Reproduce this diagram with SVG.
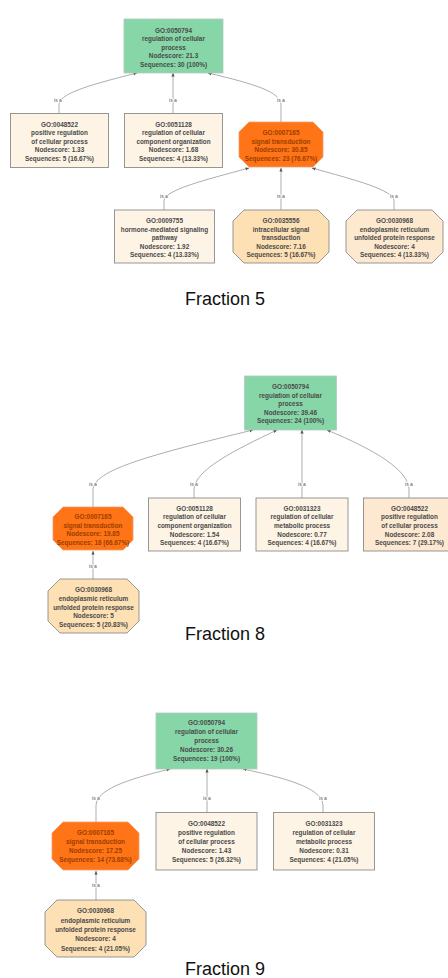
<svg xmlns="http://www.w3.org/2000/svg" width="448" height="978" viewBox="0 0 448 978">
<defs>
<marker id="arr" markerWidth="4" markerHeight="4" refX="3.6" refY="2" orient="auto" markerUnits="userSpaceOnUse">
<path d="M0,0.4 L3.8,2 L0,3.6 Z" fill="#555"/>
</marker>
</defs>
<style>
.e{fill:none;stroke:#8a8a8a;stroke-width:0.7;marker-end:url(#arr)}
.lbl{font-family:"Liberation Sans",Arial,sans-serif;font-size:5px;fill:#555;text-anchor:middle;stroke:#fff;stroke-width:1.6;paint-order:stroke}
.t{font-family:"Liberation Sans",Arial,sans-serif;font-size:6.4px;font-weight:bold;fill:#4a4a4a;text-anchor:middle}
.to{font-family:"Liberation Sans",Arial,sans-serif;font-size:6.4px;font-weight:bold;fill:#9c3d00;text-anchor:middle}
.root{fill:#86d6a8;stroke:#b5c9bc;stroke-width:0.8}
.rect{fill:#fdf4e6;stroke:#8c8c8c;stroke-width:0.9}
.peach{fill:#fde8d2;stroke:#8c8c8c;stroke-width:0.9}
.org{fill:#ff7416;stroke:#f0a070;stroke-width:0.8}
.lo{fill:#fde0b4;stroke:#8c8c8c;stroke-width:0.9}
.lo2{fill:#fde9d0;stroke:#8c8c8c;stroke-width:0.9}
.title{font-family:"Liberation Sans",Arial,sans-serif;font-size:18px;fill:#111;text-anchor:middle}
</style>
<rect width="448" height="978" fill="#fff"/>

<g id="connectors">
<!-- Fraction 5 -->
<path class="e" d="M59,113 L59,105 C59,94 85,86 137,73"/>
<path class="e" d="M173,113 L173,73"/>
<path class="e" d="M281,122 L281,105 C281,92 255,84 208,73"/>
<path class="e" d="M164,210 L164,201 C164,190 205,180 249,168"/>
<path class="e" d="M281,210 L281,168"/>
<path class="e" d="M394,210 L394,201 C394,190 355,180 312,168"/>
<!-- Fraction 8 -->
<path class="e" d="M93,507 L93,490 C93,470 150,455 253,430"/>
<path class="e" d="M194,498 L194,490 C194,470 235,450 277,430"/>
<path class="e" d="M302,498 L302,430"/>
<path class="e" d="M409,498 L409,490 C409,470 375,450 327,430"/>
<path class="e" d="M93,579 L93,551"/>
<!-- Fraction 9 -->
<path class="e" d="M96,822 L96,806 C96,790 125,780 170,769"/>
<path class="e" d="M207,812 L207,769"/>
<path class="e" d="M323,812 L323,806 C323,790 295,780 243,769"/>
<path class="e" d="M96,900 L96,871"/>
<!-- labels -->
<text class="lbl" x="58" y="101.8">is a</text>
<text class="lbl" x="173" y="101.8">is a</text>
<text class="lbl" x="281" y="101.8">is a</text>
<text class="lbl" x="164" y="197.8">is a</text>
<text class="lbl" x="281" y="197.8">is a</text>
<text class="lbl" x="394" y="197.8">is a</text>
<text class="lbl" x="93" y="485.8">is a</text>
<text class="lbl" x="194" y="485.8">is a</text>
<text class="lbl" x="302" y="485.8">is a</text>
<text class="lbl" x="409" y="485.8">is a</text>
<text class="lbl" x="93" y="567.8">is a</text>
<text class="lbl" x="96" y="799.8">is a</text>
<text class="lbl" x="207" y="799.8">is a</text>
<text class="lbl" x="323" y="799.8">is a</text>
<text class="lbl" x="96" y="887.3">is a</text>
</g>

<!-- Fraction 5 -->
<g id="f5_0050794">
<rect class="root" x="124" y="19" width="99" height="54"/>
<text class="t" x="173.5" y="32.5">GO:0050794</text>
<text class="t" x="173.5" y="41">regulation of cellular</text>
<text class="t" x="173.5" y="49.5">process</text>
<text class="t" x="173.5" y="58">Nodescore: 21.3</text>
<text class="t" x="173.5" y="66.5">Sequences: 30 (100%)</text>
</g>
<g id="f5_0048522">
<rect class="rect" x="10.5" y="113.5" width="98" height="54"/>
<text class="t" x="59.5" y="126.5">GO:0048522</text>
<text class="t" x="59.5" y="135.1">positive regulation</text>
<text class="t" x="59.5" y="143.7">of cellular process</text>
<text class="t" x="59.5" y="152.3">Nodescore: 1.33</text>
<text class="t" x="59.5" y="160.9">Sequences: 5 (16.67%)</text>
</g>
<g id="f5_0051128">
<rect class="rect" x="124.5" y="113.5" width="98" height="54"/>
<text class="t" x="173.5" y="126.5">GO:0051128</text>
<text class="t" x="173.5" y="135.1">regulation of cellular</text>
<text class="t" x="173.5" y="143.7">component organization</text>
<text class="t" x="173.5" y="152.3">Nodescore: 1.68</text>
<text class="t" x="173.5" y="160.9">Sequences: 4 (13.33%)</text>
</g>
<g id="f5_0007165">
<polygon class="org" points="249,122 313,122 323,132 323,157 313,167 249,167 239,157 239,132"/>
<text class="to" x="281" y="135">GO:0007165</text>
<text class="to" x="281" y="143.6">signal transduction</text>
<text class="to" x="281" y="152.2">Nodescore: 30.85</text>
<text class="to" x="281" y="160.8">Sequences: 23 (76.67%)</text>
</g>
<g id="f5_0009755">
<rect class="rect" x="114.5" y="210" width="100" height="53"/>
<text class="t" x="164.5" y="223">GO:0009755</text>
<text class="t" x="164.5" y="231.6">hormone-mediated signaling</text>
<text class="t" x="164.5" y="240.2">pathway</text>
<text class="t" x="164.5" y="248.8">Nodescore: 1.92</text>
<text class="t" x="164.5" y="257.4">Sequences: 4 (13.33%)</text>
</g>
<g id="f5_0035556">
<polygon class="lo" points="244,210 318,210 329,221 329,252 318,263 244,263 233,252 233,221"/>
<text class="t" x="281" y="223">GO:0035556</text>
<text class="t" x="281" y="231.6">intracellular signal</text>
<text class="t" x="281" y="240.2">transduction</text>
<text class="t" x="281" y="248.8">Nodescore: 7.16</text>
<text class="t" x="281" y="257.4">Sequences: 5 (16.67%)</text>
</g>
<g id="f5_0030968">
<polygon class="lo2" points="357,210 432,210 443,221 443,252 432,263 357,263 346,252 346,221"/>
<text class="t" x="394.5" y="223">GO:0030968</text>
<text class="t" x="394.5" y="231.6">endoplasmic reticulum</text>
<text class="t" x="394.5" y="240.2">unfolded protein response</text>
<text class="t" x="394.5" y="248.8">Nodescore: 4</text>
<text class="t" x="394.5" y="257.4">Sequences: 4 (13.33%)</text>
</g>
<text class="title" x="225" y="305">Fraction 5</text>

<!-- Fraction 8 -->
<g id="f8_0050794">
<rect class="root" x="244.5" y="376" width="92" height="54"/>
<text class="t" x="290.5" y="389">GO:0050794</text>
<text class="t" x="290.5" y="397.5">regulation of cellular</text>
<text class="t" x="290.5" y="406">process</text>
<text class="t" x="290.5" y="414.5">Nodescore: 39.46</text>
<text class="t" x="290.5" y="423">Sequences: 24 (100%)</text>
</g>
<g id="f8_0007165">
<polygon class="org" points="63,507 123,507 133,517 133,540 123,550 63,550 53,540 53,517"/>
<text class="to" x="93" y="519">GO:0007165</text>
<text class="to" x="93" y="527.7">signal transduction</text>
<text class="to" x="93" y="536.3">Nodescore: 19.85</text>
<text class="to" x="93" y="545">Sequences: 16 (66.67%)</text>
</g>
<g id="f8_0051128">
<rect class="rect" x="148.5" y="498" width="92" height="53"/>
<text class="t" x="194.5" y="510.5">GO:0051128</text>
<text class="t" x="194.5" y="519.2">regulation of cellular</text>
<text class="t" x="194.5" y="527.9">component organization</text>
<text class="t" x="194.5" y="536.6">Nodescore: 1.54</text>
<text class="t" x="194.5" y="545.3">Sequences: 4 (16.67%)</text>
</g>
<g id="f8_0031323">
<rect class="rect" x="256" y="498" width="92" height="53"/>
<text class="t" x="302" y="510.5">GO:0031323</text>
<text class="t" x="302" y="519.2">regulation of cellular</text>
<text class="t" x="302" y="527.9">metabolic process</text>
<text class="t" x="302" y="536.6">Nodescore: 0.77</text>
<text class="t" x="302" y="545.3">Sequences: 4 (16.67%)</text>
</g>
<g id="f8_0048522">
<rect class="peach" x="363.5" y="498" width="92" height="53"/>
<text class="t" x="409.5" y="510.5">GO:0048522</text>
<text class="t" x="409.5" y="519.2">positive regulation</text>
<text class="t" x="409.5" y="527.9">of cellular process</text>
<text class="t" x="409.5" y="536.6">Nodescore: 2.08</text>
<text class="t" x="409.5" y="545.3">Sequences: 7 (29.17%)</text>
</g>
<g id="f8_0030968">
<polygon class="lo" points="60,579 127,579 139,591 139,621 127,633 60,633 48,621 48,591"/>
<text class="t" x="93.5" y="592.3">GO:0030968</text>
<text class="t" x="93.5" y="601">endoplasmic reticulum</text>
<text class="t" x="93.5" y="609.6">unfolded protein response</text>
<text class="t" x="93.5" y="618.3">Nodescore: 5</text>
<text class="t" x="93.5" y="627">Sequences: 5 (20.83%)</text>
</g>
<text class="title" x="225" y="640">Fraction 8</text>

<!-- Fraction 9 -->
<g id="f9_0050794">
<rect class="root" x="156" y="713" width="101" height="56"/>
<text class="t" x="206.5" y="724.6">GO:0050794</text>
<text class="t" x="206.5" y="733.9">regulation of cellular</text>
<text class="t" x="206.5" y="743.2">process</text>
<text class="t" x="206.5" y="752.3">Nodescore: 30.26</text>
<text class="t" x="206.5" y="761.4">Sequences: 19 (100%)</text>
</g>
<g id="f9_0007165">
<polygon class="org" points="63,822 128,822 139,833 139,859 128,870 63,870 52,859 52,833"/>
<text class="to" x="95.5" y="834.8">GO:0007165</text>
<text class="to" x="95.5" y="844">signal transduction</text>
<text class="to" x="95.5" y="853.2">Nodescore: 17.25</text>
<text class="to" x="95.5" y="862.4">Sequences: 14 (73.68%)</text>
</g>
<g id="f9_0048522">
<rect class="rect" x="156" y="812.5" width="101" height="57.5"/>
<text class="t" x="206.5" y="825.6">GO:0048522</text>
<text class="t" x="206.5" y="834.8">positive regulation</text>
<text class="t" x="206.5" y="844">of cellular process</text>
<text class="t" x="206.5" y="853.2">Nodescore: 1.43</text>
<text class="t" x="206.5" y="862.4">Sequences: 5 (26.32%)</text>
</g>
<g id="f9_0031323">
<rect class="rect" x="273.5" y="812.5" width="101" height="57.5"/>
<text class="t" x="324" y="825.6">GO:0031323</text>
<text class="t" x="324" y="834.8">regulation of cellular</text>
<text class="t" x="324" y="844">metabolic process</text>
<text class="t" x="324" y="853.2">Nodescore: 0.31</text>
<text class="t" x="324" y="862.4">Sequences: 4 (21.05%)</text>
</g>
<g id="f9_0030968">
<polygon class="lo" points="57,900 134,900 146,912 146,945 134,957 57,957 45,945 45,912"/>
<text class="t" x="95.5" y="913.3">GO:0030968</text>
<text class="t" x="95.5" y="922.7">endoplasmic reticulum</text>
<text class="t" x="95.5" y="932">unfolded protein response</text>
<text class="t" x="95.5" y="941.3">Nodescore: 4</text>
<text class="t" x="95.5" y="950.6">Sequences: 4 (21.05%)</text>
</g>
<text class="title" x="225" y="975">Fraction 9</text>
</svg>
